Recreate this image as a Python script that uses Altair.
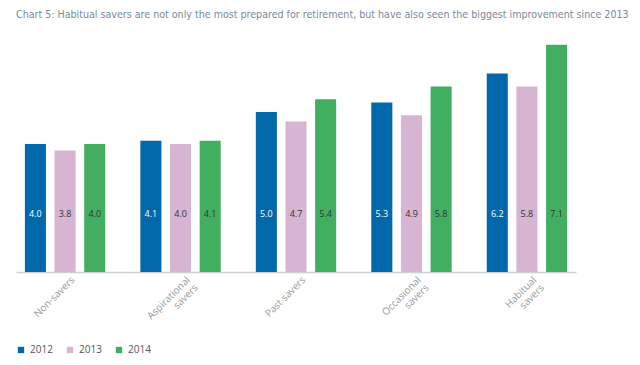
import altair as alt
import pandas as pd

categories = ["Non-savers", "Aspirational\nsavers", "Past savers", "Occasional\nsavers", "Habitual\nsavers"]
years = ["2012", "2013", "2014"]
values_2012 = [4.0, 4.1, 5.0, 5.3, 6.2]
values_2013 = [3.8, 4.0, 4.7, 4.9, 5.8]
values_2014 = [4.0, 4.1, 5.4, 5.8, 7.1]
colors = ["#0068ab", "#d6b4d2", "#42ae60"]

rows = []
for yr, vals in zip(years, [values_2012, values_2013, values_2014]):
    for c, v in zip(categories, vals):
        rows.append({"category": c, "year": yr, "value": v})
df = pd.DataFrame(rows)

H = 240
base = alt.Chart(df).encode(
    x=alt.X("category:N", sort=categories,
            scale=alt.Scale(paddingInner=0.15, paddingOuter=0),
            axis=alt.Axis(title=None, labelAngle=-45, labelAlign="right", labelBaseline="middle",
                          labelExpr="split(datum.label, '\\n')", labelColor="#9a9a9a",
                          labelFontSize=10, labelFont="Open Sans", ticks=False,
                          domainColor="#cfcfcf", domainWidth=1.5, labelPadding=6, labelLineHeight=11,
                          labelOffset=8)),
    xOffset=alt.XOffset("year:N", sort=years,
                        scale=alt.Scale(paddingInner=0.29, paddingOuter=0.3)),
)

bars = base.mark_bar().encode(
    y=alt.Y("value:Q", scale=alt.Scale(domain=[0, 7.5], nice=False), axis=None),
    color=alt.Color("year:N", sort=years, scale=alt.Scale(domain=years, range=colors),
                    legend=alt.Legend(title=None, orient="none", direction="horizontal",
                                      legendX=0, legendY=313, symbolType="square", symbolSize=40,
                                      labelFontSize=10, labelColor="#555555", labelFont="Open Sans",
                                      columnPadding=12, symbolStrokeWidth=0)),
)

labels = base.mark_text(fontSize=9, font="Open Sans").encode(
    y=alt.value(H - 58),
    text=alt.Text("value:Q", format=".1f"),
    color=alt.condition(alt.datum.year == "2012", alt.value("white"), alt.value("#333333")),
)

chart = alt.layer(bars, labels).properties(
    width=560, height=H,
    title=alt.Title("Chart 5: Habitual savers are not only the most prepared for retirement, but have also seen the biggest improvement since 2013",
                    anchor="start", fontSize=10.6, fontWeight="normal", color="#7a8a9a",
                    font="DejaVu Sans Condensed, Liberation Sans, sans-serif", offset=11),
    padding={"left": 8, "top": 2, "right": 0, "bottom": 5},
).configure_view(stroke=None)

chart.save("out.html", embed_options={"renderer": "svg", "actions": False})
